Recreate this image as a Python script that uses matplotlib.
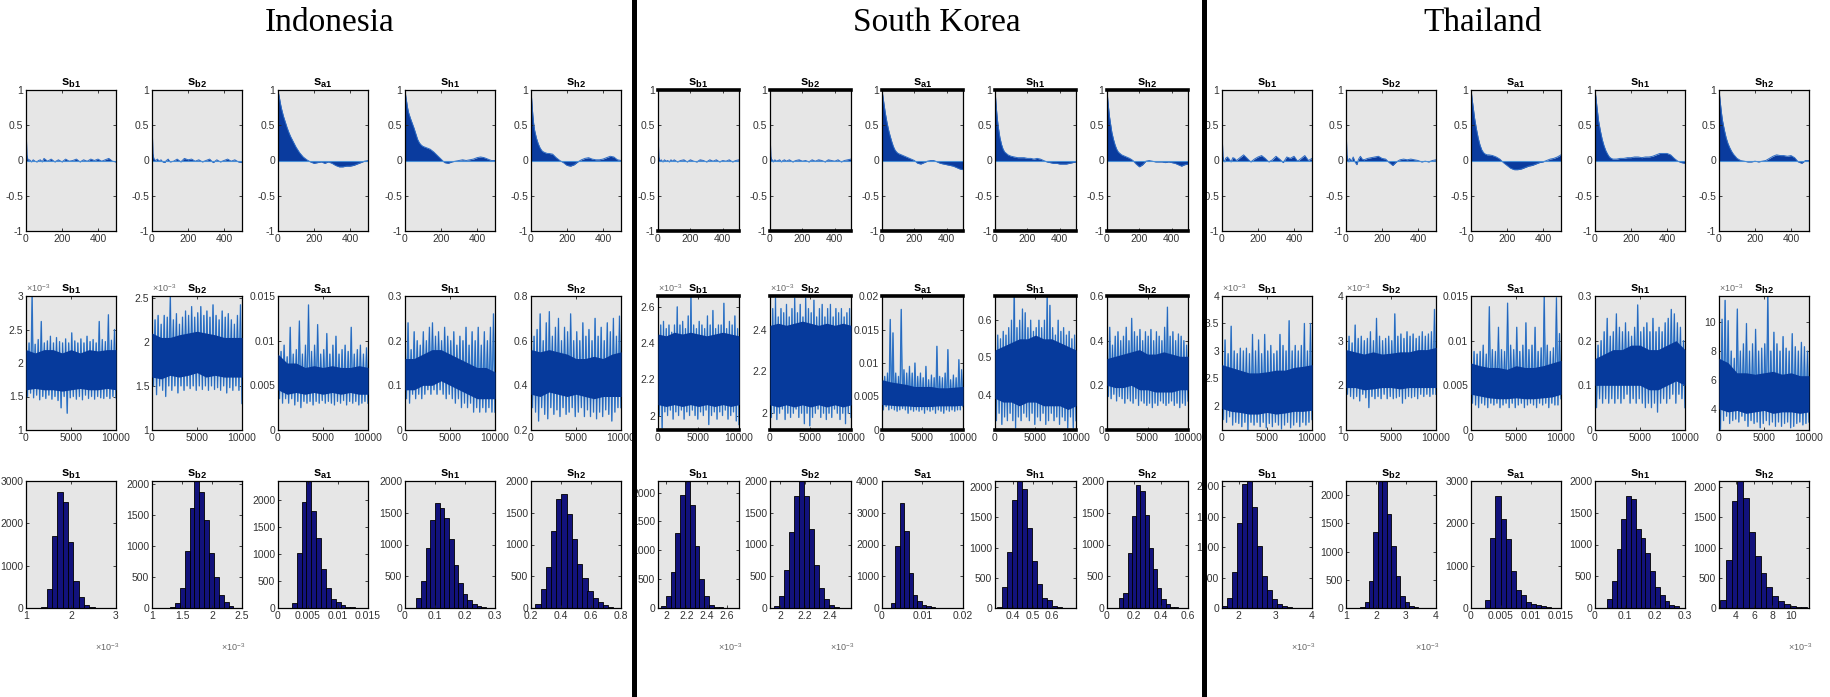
import numpy as np
import matplotlib
matplotlib.use('Agg')
import matplotlib.pyplot as plt
from matplotlib.lines import Line2D

plt.rcParams['font.family'] = ['Liberation Sans Narrow', 'Liberation Sans', 'DejaVu Sans']
plt.rcParams['axes.unicode_minus'] = False
plt.rcParams['mathtext.fontset'] = 'custom'
plt.rcParams['mathtext.rm'] = 'Liberation Sans'
plt.rcParams['mathtext.bf'] = 'Liberation Sans:bold'

params = ['b1', 'b2', 'a1', 'h1', 'h2']
lags = [0, 2, 5, 10, 15, 20, 30, 40, 50, 60, 70, 80, 90, 100, 120, 140, 160, 180, 200,
        220, 240, 260, 280, 300, 320, 340, 360, 380, 400, 420, 440, 460, 480, 500]

# ---------------- Indonesia ----------------
idn_acf = [
    [1, 0.35, 0.08, 0.02, 0.0, 0.01, -0.02, 0.01, -0.01, -0.02, 0.0, 0.01, -0.02, 0.03, -0.01, 0.02, -0.02,
     0.01, -0.02, 0.02, -0.01, 0.0, 0.02, -0.02, 0.01, -0.01, 0.02, 0.0, 0.02, -0.01, 0.01, 0.03, -0.01, -0.02],
    [1, 0.4, 0.1, 0.03, 0.01, 0.0, 0.02, -0.01, 0.01, -0.02, -0.03, 0.0, 0.02, -0.02, -0.01, 0.02, -0.02,
     0.03, 0.01, 0.02, -0.01, 0.01, -0.02, 0.0, 0.02, -0.03, 0.01, -0.02, 0.0, 0.02, -0.01, 0.01, -0.02, -0.03],
    [1, 0.97, 0.93, 0.86, 0.79, 0.73, 0.63, 0.55, 0.47, 0.4, 0.34, 0.29, 0.24, 0.19, 0.11, 0.05, 0.01,
     -0.02, -0.04, -0.03, -0.02, -0.04, -0.02, -0.04, -0.07, -0.09, -0.09, -0.08, -0.08, -0.07, -0.05, -0.03, -0.01, 0.0],
    [1, 0.96, 0.9, 0.82, 0.74, 0.68, 0.6, 0.53, 0.46, 0.38, 0.3, 0.25, 0.22, 0.2, 0.18, 0.16, 0.12,
     0.07, 0.02, -0.03, -0.04, -0.02, -0.01, 0.0, 0.01, 0.0, 0.01, 0.02, 0.04, 0.05, 0.04, 0.02, 0.0, 0.0],
    [1, 0.93, 0.82, 0.65, 0.52, 0.43, 0.32, 0.24, 0.18, 0.14, 0.12, 0.11, 0.1, 0.1, 0.09, 0.04, 0.0,
     -0.03, -0.07, -0.08, -0.06, -0.02, 0.01, 0.03, 0.04, 0.02, 0.01, 0.01, 0.02, 0.04, 0.06, 0.05, 0.01, 0.0],
]
# MCMC draws (b1, b2 in units of 1e-3)
idn_trace = [
    [2.38, 1.5, 2.3, 1.55, 3.0, 1.48, 2.28, 1.52, 2.35, 1.45, 2.62, 1.5, 2.3, 1.47, 2.33, 1.52, 2.4, 1.46, 2.3, 1.5,
     2.38, 1.44, 2.32, 1.33, 2.3, 1.5, 2.36, 1.25, 2.3, 1.48, 2.45, 1.5, 2.33, 1.46, 2.3, 1.5, 2.36, 1.45, 2.3, 1.52,
     2.4, 1.47, 2.32, 1.5, 2.35, 1.46, 2.3, 1.5, 2.62, 1.48, 2.35, 1.47, 2.32, 1.5, 2.72, 1.47, 2.34, 1.5, 2.5, 1.48],
    [2.35, 1.5, 2.25, 1.4, 2.3, 1.5, 2.2, 1.45, 2.3, 1.38, 2.28, 1.5, 2.52, 1.45, 2.25, 1.5, 2.32, 1.42, 2.2, 1.5,
     2.28, 1.45, 2.35, 1.5, 2.3, 1.47, 2.4, 1.5, 2.28, 1.45, 2.33, 1.5, 2.4, 1.46, 2.3, 1.5, 2.35, 1.45, 2.28, 1.5,
     2.42, 1.46, 2.3, 1.48, 2.25, 1.45, 2.35, 1.5, 2.28, 1.42, 2.32, 1.48, 2.25, 1.45, 2.2, 1.5, 2.3, 1.45, 2.42, 1.3],
    [0.0092, 0.0035, 0.0088, 0.003, 0.0095, 0.0035, 0.0082, 0.003, 0.0115, 0.0035, 0.0085, 0.0028, 0.009, 0.0032,
     0.0122, 0.0025, 0.0085, 0.0032, 0.0095, 0.003, 0.014, 0.0032, 0.0088, 0.0028, 0.0095, 0.0032, 0.0118, 0.003,
     0.0085, 0.0033, 0.009, 0.003, 0.0108, 0.0032, 0.0085, 0.003, 0.0095, 0.0028, 0.0105, 0.0032, 0.0085, 0.003,
     0.009, 0.0033, 0.0095, 0.0028, 0.0088, 0.0032, 0.0115, 0.003, 0.0085, 0.0032, 0.009, 0.0028, 0.0095, 0.003,
     0.0085, 0.0032, 0.0092, 0.003],
    [0.2, 0.07, 0.24, 0.06, 0.18, 0.08, 0.22, 0.07, 0.2, 0.08, 0.19, 0.07, 0.22, 0.08, 0.2, 0.09, 0.23, 0.08, 0.24, 0.09,
     0.21, 0.08, 0.22, 0.09, 0.2, 0.08, 0.23, 0.07, 0.21, 0.08, 0.2, 0.07, 0.22, 0.06, 0.19, 0.07, 0.21, 0.05, 0.2, 0.06,
     0.23, 0.05, 0.19, 0.06, 0.22, 0.04, 0.2, 0.05, 0.23, 0.04, 0.19, 0.05, 0.22, 0.04, 0.2, 0.05, 0.23, 0.04, 0.26, 0.04],
    [0.74, 0.3, 0.62, 0.28, 0.65, 0.24, 0.72, 0.3, 0.6, 0.27, 0.68, 0.25, 0.73, 0.3, 0.62, 0.27, 0.66, 0.29, 0.7, 0.26,
     0.6, 0.3, 0.66, 0.27, 0.64, 0.28, 0.72, 0.3, 0.6, 0.26, 0.64, 0.28, 0.6, 0.3, 0.68, 0.26, 0.62, 0.29, 0.65, 0.26,
     0.6, 0.28, 0.7, 0.25, 0.62, 0.28, 0.66, 0.26, 0.6, 0.29, 0.68, 0.27, 0.64, 0.24, 0.7, 0.28, 0.62, 0.3, 0.71, 0.3],
]
idn_core_lo = [
    [1.6, 1.62, 1.6, 1.6, 1.58, 1.6, 1.62, 1.6, 1.6, 1.62, 1.6],
    [1.6, 1.58, 1.62, 1.6, 1.62, 1.65, 1.6, 1.62, 1.6, 1.6, 1.6],
    [0.0045, 0.004, 0.0042, 0.004, 0.0042, 0.004, 0.0042, 0.004, 0.0042, 0.004, 0.004],
    [0.09, 0.09, 0.1, 0.1, 0.11, 0.1, 0.09, 0.08, 0.07, 0.07, 0.07],
    [0.36, 0.35, 0.37, 0.36, 0.35, 0.36, 0.35, 0.34, 0.35, 0.35, 0.35],
]
idn_core_hi = [
    [2.2, 2.15, 2.2, 2.2, 2.15, 2.2, 2.15, 2.2, 2.18, 2.2, 2.2],
    [2.1, 2.05, 2.05, 2.08, 2.1, 2.12, 2.1, 2.08, 2.05, 2.05, 2.05],
    [0.0085, 0.0075, 0.0075, 0.007, 0.0072, 0.007, 0.0072, 0.007, 0.007, 0.0072, 0.007],
    [0.16, 0.16, 0.17, 0.18, 0.18, 0.17, 0.16, 0.15, 0.14, 0.14, 0.13],
    [0.56, 0.55, 0.56, 0.55, 0.54, 0.52, 0.52, 0.53, 0.52, 0.54, 0.55],
]
idn_hist = [
    [5, 30, 450, 1700, 2750, 2500, 1570, 640, 250, 70, 20, 8, 4, 2, 1],
    [10, 80, 330, 920, 1620, 2050, 1870, 1420, 880, 500, 210, 90, 30, 8, 3],
    [100, 1010, 1960, 2350, 1800, 1290, 730, 370, 170, 110, 55, 25, 12, 5, 2],
    [150, 430, 950, 1380, 1650, 1570, 1420, 1080, 680, 400, 220, 130, 60, 25, 10],
    [60, 300, 650, 1210, 1710, 1790, 1480, 1080, 700, 480, 270, 150, 90, 40, 15],
]
idn_hist_range = [(1.22, 3.0), (1.30, 2.52), (0.0023, 0.0145), (0.038, 0.27), (0.23, 0.75)]
idn_scaled = [True, True, False, False, False]
idn_trace_ylim = [(1, 3), (1, 2.52), (0, 0.015), (0, 0.3), (0.2, 0.8)]
idn_trace_yticks = [[1, 1.5, 2, 2.5, 3], [1, 1.5, 2, 2.5], [0, 0.005, 0.01, 0.015], [0, 0.1, 0.2, 0.3], [0.2, 0.4, 0.6, 0.8]]
idn_hist_xlim = [(1, 3), (1, 2.5), (0, 0.015), (0, 0.3), (0.2, 0.8)]
idn_hist_xticks = [[1, 2, 3], [1, 1.5, 2, 2.5], [0, 0.005, 0.01, 0.015], [0, 0.1, 0.2, 0.3], [0.2, 0.4, 0.6, 0.8]]
idn_hist_ymax = [3000, 2050, 2350, 2000, 2000]
idn_hist_yticks = [[0, 1000, 2000, 3000]] + [[0, 500, 1000, 1500, 2000]] * 4

# ---------------- South Korea ----------------
kor_acf = [
    [1, 0.3, 0.05, 0.01, -0.01, 0.01, -0.02, 0.01, -0.01, 0.0, -0.02, 0.01, -0.01, 0.01, -0.02, 0.0, 0.01,
     -0.02, 0.01, -0.01, -0.02, 0.01, 0.0, -0.02, 0.01, -0.01, 0.01, -0.02, 0.0, -0.01, 0.01, -0.02, 0.0, 0.01],
    [1, 0.32, 0.06, 0.0, 0.01, -0.02, 0.01, -0.01, 0.0, 0.01, -0.02, 0.0, 0.01, -0.01, 0.01, -0.02, 0.0,
     0.01, -0.01, 0.0, -0.02, 0.01, -0.01, 0.01, 0.0, -0.02, 0.01, 0.0, -0.01, 0.01, -0.02, 0.0, 0.01, 0.02],
    [1, 0.97, 0.92, 0.84, 0.76, 0.68, 0.55, 0.44, 0.35, 0.27, 0.2, 0.15, 0.12, 0.1, 0.08, 0.06, 0.04,
     0.02, 0.0, -0.04, -0.05, -0.03, -0.01, 0.0, 0.0, -0.02, -0.04, -0.05, -0.06, -0.07, -0.08, -0.1, -0.12, -0.13],
    [1, 0.94, 0.85, 0.7, 0.58, 0.48, 0.33, 0.23, 0.16, 0.12, 0.1, 0.08, 0.07, 0.06, 0.05, 0.04, 0.04,
     0.04, 0.03, 0.03, 0.02, 0.03, 0.02, 0.0, -0.02, -0.03, -0.04, -0.04, -0.05, -0.05, -0.05, -0.04, -0.03, -0.02],
    [1, 0.94, 0.86, 0.74, 0.63, 0.55, 0.4, 0.3, 0.22, 0.16, 0.12, 0.1, 0.08, 0.07, 0.05, 0.03, 0.0,
     -0.05, -0.09, -0.06, -0.01, 0.0, -0.01, -0.02, -0.02, -0.02, -0.03, -0.02, -0.03, -0.04, -0.06, -0.08, -0.06, -0.05],
]
kor_trace = [
    [2.55, 2.0, 2.5, 1.93, 2.52, 2.02, 2.48, 2.0, 2.5, 2.03, 2.46, 1.98, 2.5, 2.02, 2.6, 2.0, 2.5, 2.03, 2.52, 1.98,
     2.48, 2.02, 2.55, 2.0, 2.66, 2.03, 2.5, 2.0, 2.48, 1.98, 2.52, 2.02, 2.5, 2.0, 2.48, 2.03, 2.55, 1.95, 2.5, 2.0,
     2.58, 2.02, 2.48, 1.98, 2.5, 2.02, 2.5, 2.0, 2.62, 2.03, 2.48, 1.98, 2.52, 2.0, 2.5, 2.02, 2.55, 1.97, 2.48, 1.95],
    [2.45, 1.98, 2.5, 2.0, 2.55, 1.97, 2.46, 2.0, 2.5, 2.02, 2.48, 1.97, 2.52, 2.0, 2.46, 1.98, 2.5, 2.0, 2.55, 2.02,
     2.48, 1.98, 2.52, 2.0, 2.46, 1.95, 2.55, 2.0, 2.5, 1.94, 2.48, 1.98, 2.54, 2.0, 2.46, 2.02, 2.5, 1.98, 2.52, 2.0,
     2.46, 1.97, 2.5, 2.0, 2.52, 1.98, 2.46, 2.02, 2.5, 2.0, 2.48, 1.97, 2.5, 2.0, 2.46, 1.95, 2.48, 2.0, 2.5, 1.98],
    [0.0095, 0.003, 0.008, 0.0035, 0.0085, 0.003, 0.0165, 0.0032, 0.0145, 0.003, 0.0085, 0.0028, 0.008, 0.003,
     0.018, 0.0032, 0.009, 0.003, 0.0085, 0.0025, 0.0095, 0.003, 0.0085, 0.0028, 0.01, 0.003, 0.008, 0.0028,
     0.0085, 0.003, 0.0078, 0.0025, 0.0095, 0.003, 0.0075, 0.0028, 0.0082, 0.003, 0.0078, 0.0025, 0.0125, 0.003,
     0.008, 0.0028, 0.0078, 0.0025, 0.0085, 0.003, 0.012, 0.0028, 0.0075, 0.003, 0.0082, 0.0028, 0.0078, 0.003,
     0.0105, 0.003, 0.009, 0.0035],
    [0.58, 0.33, 0.56, 0.35, 0.55, 0.32, 0.57, 0.34, 0.56, 0.33, 0.58, 0.35, 0.6, 0.33, 0.69, 0.31, 0.58, 0.34, 0.6, 0.33,
     0.63, 0.35, 0.62, 0.34, 0.58, 0.33, 0.6, 0.35, 0.57, 0.32, 0.58, 0.34, 0.6, 0.33, 0.58, 0.35, 0.6, 0.32, 0.67, 0.33,
     0.64, 0.35, 0.58, 0.33, 0.56, 0.34, 0.6, 0.32, 0.57, 0.34, 0.58, 0.33, 0.56, 0.31, 0.57, 0.34, 0.55, 0.31, 0.56, 0.33],
    [0.3, 0.15, 0.46, 0.14, 0.38, 0.16, 0.42, 0.13, 0.44, 0.15, 0.4, 0.14, 0.42, 0.12, 0.46, 0.14, 0.4, 0.13, 0.5, 0.12,
     0.44, 0.14, 0.42, 0.11, 0.45, 0.13, 0.4, 0.12, 0.44, 0.11, 0.42, 0.12, 0.45, 0.1, 0.4, 0.12, 0.44, 0.11, 0.42, 0.13,
     0.4, 0.12, 0.46, 0.11, 0.55, 0.12, 0.42, 0.13, 0.44, 0.11, 0.4, 0.12, 0.43, 0.1, 0.42, 0.12, 0.4, 0.11, 0.38, 0.13],
]
kor_core_lo = [
    [2.06, 2.05, 2.06, 2.05, 2.06, 2.05, 2.06, 2.05, 2.06, 2.05, 2.06],
    [2.04, 2.03, 2.04, 2.03, 2.04, 2.03, 2.04, 2.03, 2.04, 2.03, 2.04],
    [0.0038, 0.0037, 0.0036, 0.0036, 0.0035, 0.0035, 0.0035, 0.0036, 0.0036, 0.0036, 0.0037],
    [0.39, 0.38, 0.38, 0.37, 0.38, 0.38, 0.37, 0.37, 0.37, 0.36, 0.37],
    [0.2, 0.19, 0.19, 0.2, 0.18, 0.18, 0.17, 0.17, 0.17, 0.18, 0.18],
]
kor_core_hi = [
    [2.45, 2.44, 2.46, 2.45, 2.46, 2.45, 2.44, 2.45, 2.46, 2.45, 2.44],
    [2.42, 2.43, 2.42, 2.43, 2.44, 2.43, 2.42, 2.43, 2.42, 2.43, 2.42],
    [0.0075, 0.0072, 0.007, 0.0068, 0.0065, 0.0065, 0.0065, 0.0063, 0.0063, 0.0064, 0.0065],
    [0.52, 0.53, 0.54, 0.55, 0.55, 0.56, 0.55, 0.55, 0.54, 0.53, 0.52],
    [0.32, 0.33, 0.34, 0.35, 0.36, 0.34, 0.34, 0.35, 0.34, 0.33, 0.33],
]
kor_hist = [
    [30, 200, 620, 1300, 1950, 2200, 1790, 1080, 500, 200, 60, 20, 10, 5, 2],
    [30, 190, 600, 1200, 1760, 2000, 1770, 1250, 680, 310, 140, 50, 15, 5, 2],
    [150, 1950, 3300, 2420, 1100, 420, 210, 100, 50, 30, 15, 8, 5, 3, 2],
    [20, 340, 930, 1780, 2100, 1960, 1320, 780, 400, 170, 130, 40, 15, 5, 2],
    [150, 230, 860, 1450, 1930, 1840, 1460, 940, 620, 320, 140, 60, 20, 8, 3],
]
kor_hist_range = [(1.95, 2.66), (1.95, 2.55), (0.0022, 0.0185), (0.32, 0.70), (0.09, 0.56)]
kor_scaled = [True, True, False, False, False]
kor_trace_ylim = [(1.92, 2.66), (1.92, 2.56), (0, 0.02), (0.305, 0.665), (0, 0.6)]
kor_trace_yticks = [[2, 2.2, 2.4, 2.6], [2, 2.2, 2.4], [0, 0.005, 0.01, 0.015, 0.02], [0.4, 0.5, 0.6], [0, 0.2, 0.4, 0.6]]
kor_hist_xlim = [(1.92, 2.72), (1.92, 2.57), (0, 0.02), (0.31, 0.72), (0, 0.6)]
kor_hist_xticks = [[2, 2.2, 2.4, 2.6], [2, 2.2, 2.4], [0, 0.01, 0.02], [0.4, 0.5, 0.6], [0, 0.2, 0.4, 0.6]]
kor_hist_ymax = [2200, 2000, 4000, 2100, 2000]
kor_hist_yticks = [[0, 500, 1000, 1500, 2000]] * 2 + [[0, 1000, 2000, 3000, 4000]] + [[0, 500, 1000, 1500, 2000]] * 2

# ---------------- Thailand ----------------
tha_acf = [
    [1, 0.3, 0.06, 0.0, -0.02, 0.03, 0.05, 0.02, -0.02, 0.04, 0.03, 0.0, 0.02, 0.04, 0.08, 0.03, -0.02,
     0.02, 0.05, 0.07, 0.03, -0.02, 0.01, 0.06, 0.02, -0.03, 0.05, 0.03, 0.06, -0.01, 0.03, 0.07, 0.0, 0.03],
    [1, 0.35, 0.08, 0.02, -0.02, 0.03, -0.01, 0.05, -0.02, -0.06, 0.02, 0.06, 0.02, 0.01, 0.03, 0.04, 0.05,
     0.06, 0.03, 0.02, -0.03, -0.07, -0.02, 0.01, 0.02, 0.01, 0.02, 0.01, 0.0, -0.02, -0.01, -0.02, 0.0, 0.01],
    [1, 0.97, 0.9, 0.8, 0.7, 0.6, 0.45, 0.32, 0.22, 0.15, 0.11, 0.09, 0.08, 0.08, 0.07, 0.05, 0.02,
     -0.03, -0.07, -0.11, -0.13, -0.13, -0.12, -0.1, -0.08, -0.07, -0.05, -0.03, -0.02, 0.0, 0.02, 0.03, 0.05, 0.08],
    [1, 0.96, 0.9, 0.78, 0.67, 0.56, 0.42, 0.3, 0.21, 0.14, 0.09, 0.05, 0.03, 0.02, 0.02, 0.03, 0.03,
     0.04, 0.04, 0.05, 0.05, 0.04, 0.05, 0.05, 0.06, 0.08, 0.1, 0.1, 0.1, 0.08, 0.03, -0.01, -0.03, -0.04],
    [1, 0.95, 0.88, 0.76, 0.65, 0.56, 0.43, 0.32, 0.24, 0.18, 0.13, 0.09, 0.06, 0.03, 0.0, -0.01, -0.02,
     -0.02, -0.01, -0.02, -0.01, 0.0, 0.03, 0.06, 0.08, 0.07, 0.07, 0.06, 0.07, 0.04, -0.02, -0.04, 0.0, 0.0],
]
tha_trace = [
    [2.8, 1.75, 3.2, 1.7, 2.95, 1.8, 3.45, 1.65, 3.0, 1.7, 2.95, 1.68, 3.05, 1.62, 3.0, 1.7, 3.05, 1.55, 2.95, 1.7,
     3.3, 1.65, 3.0, 1.7, 3.2, 1.62, 2.95, 1.7, 3.3, 1.6, 3.0, 1.68, 3.1, 1.62, 2.95, 1.7, 3.0, 1.65, 3.3, 1.58,
     3.1, 1.65, 3.0, 1.7, 3.55, 1.6, 3.0, 1.65, 3.1, 1.7, 3.0, 1.62, 3.1, 1.7, 3.5, 1.65, 3.0, 1.7, 3.5, 1.75],
    [3.0, 1.8, 3.1, 1.75, 2.95, 1.7, 3.35, 1.75, 3.05, 1.65, 3.1, 1.8, 3.0, 1.72, 3.05, 1.5, 3.2, 1.75, 3.0, 1.7,
     3.5, 1.75, 3.1, 1.7, 3.0, 1.8, 3.05, 1.7, 3.1, 1.75, 3.0, 1.7, 3.6, 1.72, 3.1, 1.75, 3.15, 1.6, 3.05, 1.7,
     3.2, 1.75, 3.1, 1.72, 3.15, 1.75, 3.05, 1.7, 3.1, 1.8, 3.2, 1.75, 3.1, 1.8, 3.15, 1.75, 3.2, 1.8, 3.7, 1.8],
    [0.008, 0.003, 0.0088, 0.0028, 0.0085, 0.0025, 0.0088, 0.003, 0.0095, 0.0028, 0.0085, 0.0025, 0.0138, 0.003,
     0.009, 0.0028, 0.0088, 0.003, 0.0115, 0.0025, 0.009, 0.0028, 0.0088, 0.003, 0.0142, 0.0025, 0.0095, 0.003,
     0.009, 0.0025, 0.0115, 0.0028, 0.0088, 0.003, 0.0095, 0.0025, 0.012, 0.0028, 0.009, 0.003, 0.0095, 0.0028,
     0.0115, 0.0025, 0.0088, 0.003, 0.0092, 0.0028, 0.015, 0.003, 0.0095, 0.0025, 0.0088, 0.003, 0.0092, 0.0028,
     0.0148, 0.0028, 0.0108, 0.0035],
    [0.2, 0.05, 0.19, 0.07, 0.2, 0.06, 0.22, 0.07, 0.25, 0.06, 0.21, 0.07, 0.22, 0.06, 0.26, 0.07, 0.23, 0.06, 0.22, 0.07,
     0.24, 0.08, 0.22, 0.06, 0.21, 0.07, 0.23, 0.06, 0.28, 0.07, 0.22, 0.06, 0.23, 0.05, 0.24, 0.06, 0.22, 0.05, 0.25, 0.06,
     0.22, 0.04, 0.23, 0.06, 0.22, 0.07, 0.24, 0.06, 0.25, 0.07, 0.27, 0.08, 0.26, 0.06, 0.24, 0.08, 0.23, 0.07, 0.2, 0.05],
    [5.5, 2.6, 10.2, 3.2, 11.5, 3.5, 10.1, 3.0, 8.0, 3.2, 7.5, 3.3, 10.9, 3.1, 8.0, 3.5, 8.5, 3.2, 9.9, 2.8,
     8.0, 3.2, 8.5, 3.0, 9.5, 3.1, 8.0, 2.7, 8.2, 3.0, 8.5, 3.2, 12.0, 2.9, 8.0, 3.1, 9.3, 2.8, 8.5, 3.1,
     8.0, 2.8, 9.0, 3.0, 8.2, 3.1, 8.0, 2.7, 9.2, 2.8, 8.3, 3.0, 8.0, 3.1, 8.6, 2.9, 8.3, 3.0, 8.0, 3.1],
]
tha_core_lo = [
    [1.95, 1.9, 1.88, 1.85, 1.85, 1.88, 1.85, 1.87, 1.9, 1.9, 1.92],
    [1.95, 1.95, 1.9, 1.92, 1.95, 1.95, 1.92, 1.95, 1.95, 1.95, 1.95],
    [0.004, 0.0038, 0.0036, 0.0035, 0.0035, 0.0036, 0.0035, 0.0035, 0.0036, 0.0037, 0.004],
    [0.1, 0.1, 0.1, 0.1, 0.1, 0.1, 0.09, 0.09, 0.1, 0.11, 0.1],
    [4.0, 3.8, 3.9, 3.7, 3.8, 3.9, 3.7, 3.8, 3.8, 3.7, 3.8],
]
tha_core_hi = [
    [2.75, 2.7, 2.65, 2.6, 2.6, 2.62, 2.65, 2.65, 2.7, 2.72, 2.75],
    [2.8, 2.75, 2.7, 2.75, 2.7, 2.72, 2.75, 2.75, 2.8, 2.8, 2.85],
    [0.0075, 0.0072, 0.007, 0.007, 0.0068, 0.0072, 0.007, 0.007, 0.0072, 0.0075, 0.0078],
    [0.16, 0.17, 0.18, 0.18, 0.19, 0.19, 0.18, 0.18, 0.19, 0.2, 0.18],
    [7.5, 7.2, 6.5, 6.5, 6.4, 6.5, 6.6, 6.4, 6.5, 6.3, 6.3],
]
tha_hist = [
    [40, 170, 600, 1400, 2040, 2090, 1670, 1020, 520, 290, 140, 70, 30, 15, 8],
    [10, 100, 470, 1350, 2250, 2250, 1670, 1090, 570, 210, 100, 40, 15, 8, 3],
    [200, 1650, 2650, 2100, 1620, 870, 430, 300, 130, 100, 70, 50, 25, 10, 5],
    [140, 430, 930, 1400, 1770, 1720, 1240, 1100, 860, 580, 330, 210, 110, 50, 25],
    [130, 790, 1770, 2100, 1820, 1250, 860, 580, 340, 200, 120, 70, 40, 20, 10],
]
tha_hist_range = [(1.55, 3.6), (1.47, 3.7), (0.0024, 0.015), (0.04, 0.28), (2.3, 11.8)]
tha_scaled = [True, True, False, False, True]
tha_trace_ylim = [(1.56, 4), (1, 4), (0, 0.015), (0, 0.3), (2.55, 11.8)]
tha_trace_yticks = [[2, 2.5, 3, 3.5, 4], [1, 2, 3, 4], [0, 0.005, 0.01, 0.015], [0, 0.1, 0.2, 0.3], [4, 6, 8, 10]]
tha_hist_xlim = [(1.55, 4), (1, 4), (0, 0.015), (0, 0.3), (2.2, 12)]
tha_hist_xticks = [[2, 3, 4], [1, 2, 3, 4], [0, 0.005, 0.01, 0.015], [0, 0.1, 0.2, 0.3], [4, 6, 8, 10]]
tha_hist_ymax = [2090, 2250, 3000, 2000, 2100]
tha_hist_yticks = [[0, 500, 1000, 1500, 2000]] * 2 + [[0, 1000, 2000, 3000]] + [[0, 500, 1000, 1500, 2000]] * 2

# ---------------- layout (pixels) ----------------
W, H = 1831, 697
rows = [(90, 231), (296, 430), (481, 608)]
bg = '#e6e6e6'
acf_blue = '#0a3b9e'
dark_blue = '#063a9c'
mid_blue = '#1f5fb8'
light_blue = '#4a8fd6'
bar_blue = '#12127c'

fig = plt.figure(figsize=(W / 100, H / 100), dpi=100)


def add_ax(left, width, row):
    top, bot = rows[row]
    return fig.add_axes([left / W, 1 - bot / H, width / W, (bot - top) / H])


def fmt(v):
    return '%g' % v


def style(ax, heavy):
    ax.set_facecolor(bg)
    ax.tick_params(direction='in', length=2.5, width=0.6, top=True, right=True,
                   labelsize=7.5, pad=2, colors='#222222', labelcolor='#333333')
    for s in ax.spines.values():
        s.set_linewidth(0.9)
    if heavy:
        ax.spines['top'].set_linewidth(2.6)
        ax.spines['bottom'].set_linewidth(2.6)


def title(ax, k):
    ax.set_title(r'$\mathbf{s}_{\mathbf{%s}}$' % params[k], fontsize=9.5, pad=3)


def sci_label(ax, where):
    if where == 'top':
        ax.text(0.0, 1.015, r'$\times10^{-3}$', transform=ax.transAxes, ha='left', va='bottom',
                fontsize=6.5, color='#666666')
    else:
        ax.annotate(r'$\times10^{-3}$', xy=(1.0, 0.0), xycoords='axes fraction', xytext=(2, -24),
                    textcoords='offset points', ha='right', va='top', fontsize=6.5, color='#666666')


def draw_country(lefts, width, acf, trace, lo, hi, hist, hrange, scaled,
                 t_ylim, t_yticks, h_xlim, h_xticks, h_ymax, h_yticks, heavy):
    for k in range(5):
        # autocorrelation
        ax = add_ax(lefts[k], width, 0)
        ax.fill_between(lags, acf[k], 0, color=acf_blue, lw=0)
        ax.plot(lags, acf[k], color='#2e6cc4', lw=0.7)
        ax.axhline(0, color=light_blue, lw=0.8)
        ax.set_xlim(0, 500)
        ax.set_ylim(-1, 1)
        ax.set_xticks([0, 200, 400])
        ax.set_xticklabels(['0', '200', '400'])
        ax.set_yticks([-1, -0.5, 0, 0.5, 1])
        ax.set_yticklabels(['-1', '-0.5', '0', '0.5', '1'])
        style(ax, heavy)
        title(ax, k)

        # trace: thin draws with a dense core on top
        ax = add_ax(lefts[k], width, 1)
        xs = np.linspace(0, 10000, len(trace[k]))
        xb = np.linspace(0, 10000, len(lo[k]))
        ax.plot(xs, trace[k], color=light_blue, lw=1.0, zorder=2)
        ax.plot(xs, trace[k], color=mid_blue, lw=0.45, zorder=2.1)
        ax.fill_between(xb, lo[k], hi[k], color=dark_blue, lw=0, zorder=3)
        ax.set_xlim(0, 10000)
        ax.set_ylim(*t_ylim[k])
        ax.set_xticks([0, 5000, 10000])
        ax.set_xticklabels(['0', '5000', '10000'])
        ax.set_yticks(t_yticks[k])
        ax.set_yticklabels([fmt(v) for v in t_yticks[k]])
        style(ax, heavy)
        title(ax, k)
        if scaled[k]:
            sci_label(ax, 'top')

        # histogram
        ax = add_ax(lefts[k], width, 2)
        edges = np.linspace(hrange[k][0], hrange[k][1], len(hist[k]) + 1)
        ax.bar(edges[:-1], hist[k], width=np.diff(edges), align='edge',
               color=bar_blue, edgecolor='black', lw=0.6)
        ax.set_xlim(*h_xlim[k])
        ax.set_ylim(0, h_ymax[k])
        ax.set_xticks(h_xticks[k])
        ax.set_xticklabels([fmt(v) for v in h_xticks[k]])
        ax.set_yticks(h_yticks[k])
        ax.set_yticklabels([fmt(v) for v in h_yticks[k]])
        style(ax, False)
        title(ax, k)
        if scaled[k]:
            sci_label(ax, 'bottom')


draw_country([26, 152, 278, 405, 531], 90, idn_acf, idn_trace, idn_core_lo, idn_core_hi, idn_hist,
             idn_hist_range, idn_scaled, idn_trace_ylim, idn_trace_yticks, idn_hist_xlim, idn_hist_xticks,
             idn_hist_ymax, idn_hist_yticks, False)
draw_country([658, 770, 882, 995, 1107], 81, kor_acf, kor_trace, kor_core_lo, kor_core_hi, kor_hist,
             kor_hist_range, kor_scaled, kor_trace_ylim, kor_trace_yticks, kor_hist_xlim, kor_hist_xticks,
             kor_hist_ymax, kor_hist_yticks, True)
draw_country([1222, 1346, 1471, 1595, 1719], 90, tha_acf, tha_trace, tha_core_lo, tha_core_hi, tha_hist,
             tha_hist_range, tha_scaled, tha_trace_ylim, tha_trace_yticks, tha_hist_xlim, tha_hist_xticks,
             tha_hist_ymax, tha_hist_yticks, False)

# country headings and separators
for cx, name in [(330, 'Indonesia'), (937, 'South Korea'), (1483, 'Thailand')]:
    fig.text(cx / W, 1 - 23 / H, name, ha='center', va='center', fontsize=24, family='Liberation Serif')
for lx in [634, 1204]:
    fig.add_artist(Line2D([lx / W, lx / W], [0, 1], color='black', lw=3.6))

fig.savefig('out.png', dpi=100)
